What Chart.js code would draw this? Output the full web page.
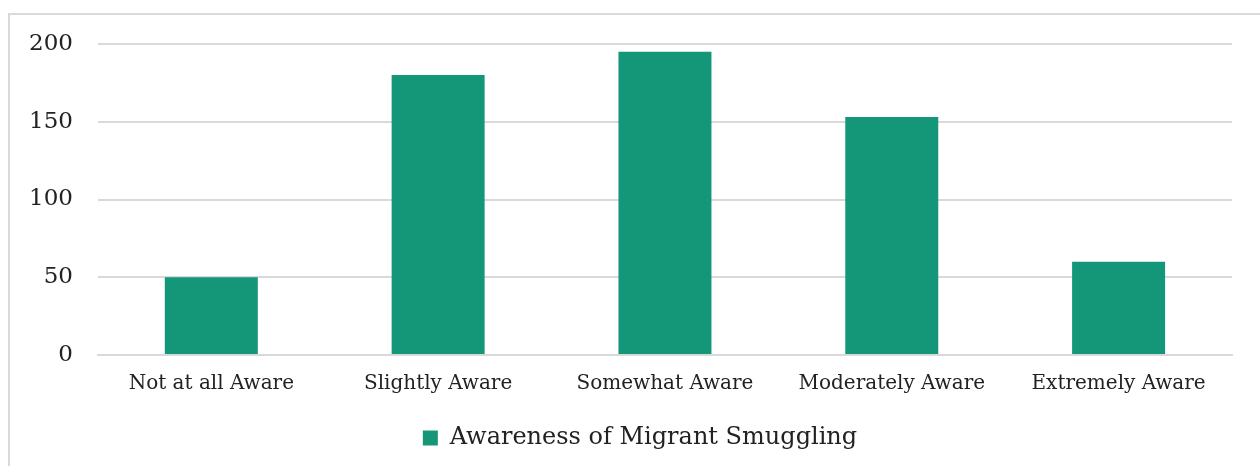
<!DOCTYPE html>
<html>
<head>
<meta charset="utf-8">
<script src="https://cdn.jsdelivr.net/npm/chart.js@4/dist/chart.umd.min.js"></script>
<style>
  html, body { margin: 0; padding: 0; background: #fff; overflow: hidden; }
  #frame {
    position: absolute; left: 8px; top: 13px; width: 1270px; height: 480px;
    border: 2px solid #d9d9d9; box-sizing: border-box;
  }
  #wrap { position: absolute; left: 0; top: 0; width: 1260px; height: 466px; }
</style>
</head>
<body>
<div id="frame"></div>
<div id="wrap"><canvas id="chart"></canvas></div>
<script>
// chart data
const categories = ['Not at all Aware', 'Slightly Aware', 'Somewhat Aware', 'Moderately Aware', 'Extremely Aware'];
const seriesName = 'Awareness of Migrant Smuggling';
const values = [50, 180, 195, 153, 60];
const yTicks = [0, 50, 100, 150, 200];

const barColor = '#149679';
const gridColor = '#d9d9d9';
const textColor = '#222222';
const fontFamily = '"DejaVu Serif", "Liberation Serif", serif';

// legend sits centred on the page, not on the chart box
const legendShift = {
  id: 'legendShift',
  afterLayout(chart) {
    chart.legend.left += 22;
    chart.legend.right += 22;
  }
};

new Chart(document.getElementById('chart').getContext('2d'), {
  type: 'bar',
  data: {
    labels: categories,
    datasets: [{
      label: seriesName,
      data: values,
      backgroundColor: barColor,
      borderWidth: 0,
      barPercentage: 0.41,
      categoryPercentage: 1
    }]
  },
  options: {
    responsive: true,
    maintainAspectRatio: false,
    animation: false,
    layout: { padding: { left: 4, right: 28, top: 44, bottom: 6 } },
    plugins: {
      legend: {
        position: 'bottom',
        labels: {
          color: textColor,
          font: { family: fontFamily, size: 24 },
          boxWidth: 15,
          boxHeight: 15,
          padding: 13
        }
      },
      tooltip: { enabled: false }
    },
    scales: {
      x: {
        grid: { display: false, drawTicks: false },
        border: { color: gridColor, width: 2 },
        ticks: { color: textColor, font: { family: fontFamily, size: 20 }, padding: 17 }
      },
      y: {
        min: yTicks[0],
        max: yTicks[yTicks.length - 1],
        afterBuildTicks: axis => { axis.ticks = yTicks.map(v => ({ value: v })); },
        grid: { color: gridColor, lineWidth: 2, drawTicks: false },
        border: { display: false },
        ticks: { color: textColor, font: { family: fontFamily, size: 23 }, padding: 25 }
      }
    }
  },
  plugins: [legendShift]
});
</script>
</body>
</html>
